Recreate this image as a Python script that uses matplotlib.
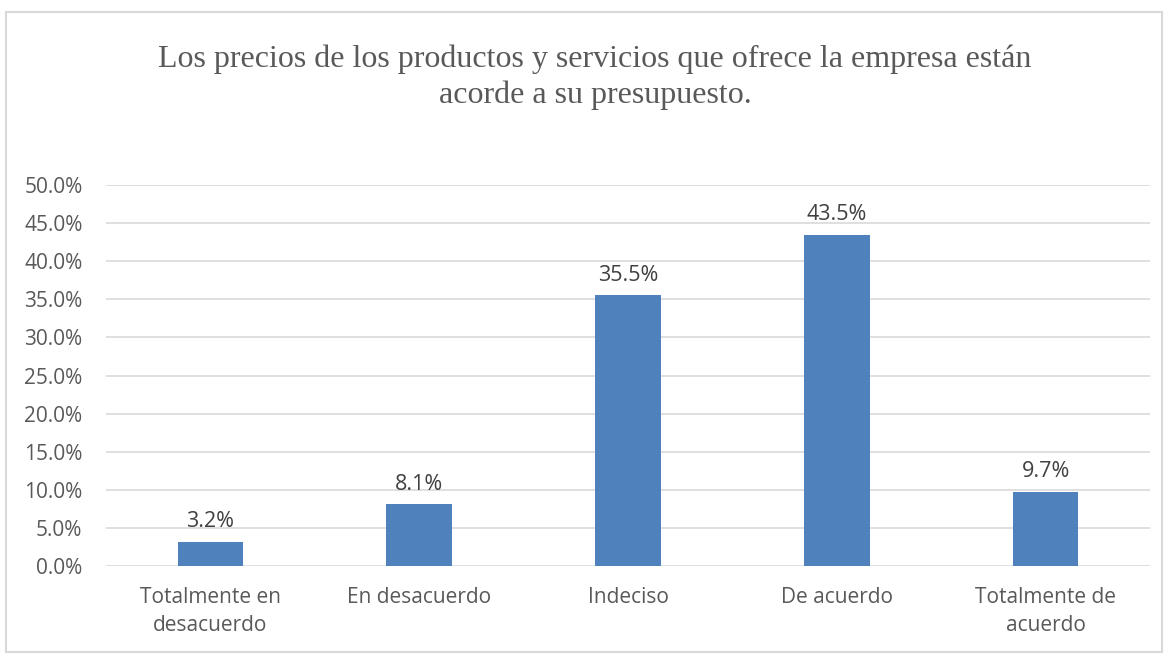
import matplotlib
matplotlib.use("Agg")
import matplotlib.pyplot as plt
from matplotlib.patches import Rectangle

categories = ["Totalmente en\ndesacuerdo", "En desacuerdo", "Indeciso", "De acuerdo", "Totalmente de\nacuerdo"]
values = [3.2, 8.1, 35.5, 43.5, 9.7]
yticks = [0, 5, 10, 15, 20, 25, 30, 35, 40, 45, 50]
title = "Los precios de los productos y servicios que ofrece la empresa están\nacorde a su presupuesto."

W, H = 1169, 658
fig = plt.figure(figsize=(W / 100, H / 100), dpi=100)
fig.patch.set_facecolor("white")

# outer border
fig.add_artist(Rectangle((6 / W, 6 / H), 1156 / W, 640 / H, transform=fig.transFigure,
                         fill=False, edgecolor="#d9d9d9", linewidth=1.5))

left, right = 106, 1150
y0, y50 = 566, 185
ax = fig.add_axes([left / W, (H - y0) / H, (right - left) / W, (y0 - y50) / H])
x = list(range(len(categories)))
bars = ax.bar(x, values, width=0.315, color="#4f81bd", zorder=3)
ax.set_xlim(-0.5, len(categories) - 0.5)
ax.set_ylim(0, 50)
ax.set_yticks(yticks)
ax.set_yticklabels([f"{v:.1f}%" for v in yticks])
ax.set_xticks(x)
ax.set_xticklabels(categories, linespacing=1.45)
ax.grid(axis="y", color="#d9d9d9", linewidth=1.2, zorder=0)
for s in ax.spines.values():
    s.set_visible(False)
ax.tick_params(axis="both", length=0, colors="#595959", labelsize=15)
ax.tick_params(axis="y", pad=17)
ax.tick_params(axis="x", pad=15)
for lab in ax.get_xticklabels() + ax.get_yticklabels():
    lab.set_fontfamily("Open Sans")
    lab.set_color("#595959")
for b, v in zip(bars, values):
    ax.annotate(f"{v:.1f}%", (b.get_x() + b.get_width() / 2, v), xytext=(0, 7),
                textcoords="offset points", ha="center", va="bottom",
                fontsize=15.5, color="#404040", family="Open Sans")

fig.text(595 / W, 1 - 77 / H, title, ha="center", va="center", fontsize=23,
         family="Liberation Serif", color="#595959", linespacing=1.27)

fig.savefig("out.png", dpi=100)
